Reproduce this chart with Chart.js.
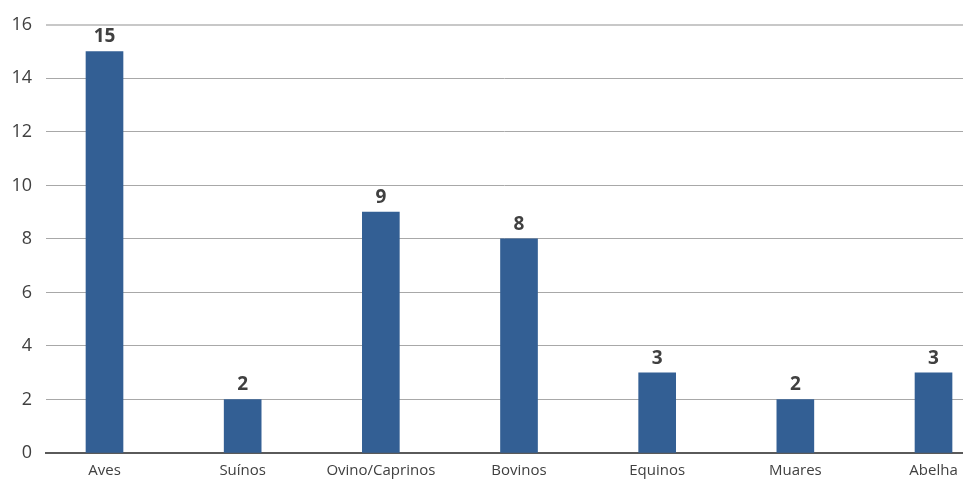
<!DOCTYPE html>
<html>
<head>
<meta charset="utf-8">
<script src="https://cdn.jsdelivr.net/npm/chart.js@4/dist/chart.umd.min.js"></script>
<style>
  html, body { margin: 0; padding: 0; background: #ffffff; overflow: hidden; }
  #wrap { width: 963px; height: 485px; position: relative; }
</style>
</head>
<body>
<div id="wrap"><canvas id="c" width="963" height="485"></canvas></div>
<script>
const categories = ["Aves", "Suínos", "Ovino/Caprinos", "Bovinos", "Equinos", "Muares", "Abelha"];
const values = [15, 2, 9, 8, 3, 2, 3];
const yTicks = [0, 2, 4, 6, 8, 10, 12, 14, 16];

const FONT = "'Open Sans', 'Noto Sans', sans-serif";
const TEXT = '#404040';

const valueLabels = {
  id: 'valueLabels',
  afterDatasetsDraw(chart) {
    const ctx = chart.ctx;
    const meta = chart.getDatasetMeta(0);
    ctx.save();
    ctx.font = "bold 19px " + FONT;
    ctx.fillStyle = TEXT;
    ctx.textAlign = 'center';
    ctx.textBaseline = 'bottom';
    meta.data.forEach((bar, i) => {
      ctx.fillText(String(values[i]), bar.x, bar.y - 5);
    });
    ctx.restore();
  }
};

new Chart(document.getElementById('c'), {
  type: 'bar',
  data: {
    datasets: [{
      data: values.map((v, i) => ({ x: i, y: v })),
      backgroundColor: '#335f94',
      barThickness: 37
    }]
  },
  options: {
    responsive: false,
    animation: false,
    layout: { padding: { top: 23.5, right: 0, left: 0, bottom: 0 } },
    plugins: { legend: { display: false }, tooltip: { enabled: false } },
    scales: {
      x: {
        type: 'linear',
        offset: false,
        min: -0.4234,
        max: 6.2134,
        afterBuildTicks: (scale) => { scale.ticks = categories.map((_, i) => ({ value: i })); },
        afterFit: (scale) => { scale.height = 32; scale.paddingLeft = 0; scale.paddingRight = 0; },
        grid: { display: false, drawTicks: false, offset: false },
        border: { display: true, color: '#5a5a5a', width: 2 },
        ticks: {
          autoSkip: false,
          maxRotation: 0,
          padding: 9,
          color: TEXT,
          font: { family: FONT, size: 15 },
          callback: (v) => categories[v]
        }
      },
      y: {
        min: 0,
        max: 16,
        afterBuildTicks: (scale) => { scale.ticks = yTicks.map(v => ({ value: v })); },
        afterFit: (scale) => { scale.width = 46; },
        grid: {
          color: (c) => c.tick && c.tick.value === 16 ? '#c8c8c8' : '#a8a8a8',
          lineWidth: (c) => c.tick && c.tick.value === 16 ? 2 : 1,
          drawTicks: false
        },
        border: { display: false },
        ticks: {
          padding: 14,
          color: TEXT,
          font: { family: FONT, size: 18 }
        }
      }
    }
  },
  plugins: [valueLabels]
});
</script>
</body>
</html>
